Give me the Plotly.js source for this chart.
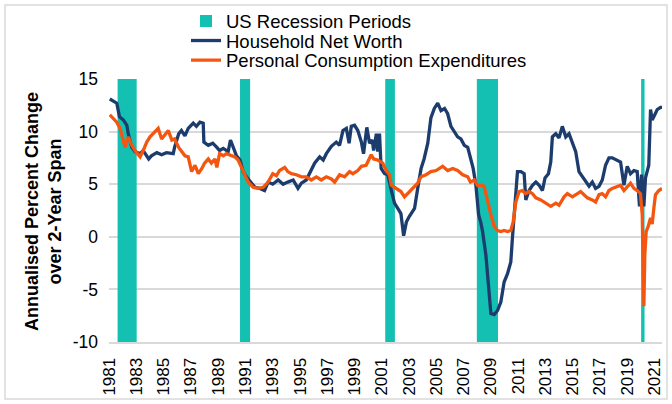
<!DOCTYPE html>
<html>
<head>
<meta charset="utf-8">
<script src="https://cdn.plot.ly/plotly-3.0.1.min.js"></script>
<style>
html,body{margin:0;padding:0;background:#ffffff;}
#chart{width:672px;height:404px;}
</style>
</head>
<body>
<div id="chart"></div>
<script>
// ---------- data ----------
const seriesNames = ["US Recession Periods", "Household Net Worth", "Personal Consumption Expenditures"];
const yAxisTitle = "Annualised Percent Change<br>over 2-Year Span";

const recessionStart = [1981.62, 1990.6, 2001.25, 2007.97, 2020.02];
const recessionEnd   = [1983.02, 1991.34, 2001.96, 2009.52, 2020.27];

const hnwYears = [1981.05,1981.4,1981.56,1981.76,1982.05,1982.3,1982.4,1982.66,1982.9,1983.27,1983.5,1983.9,1984.1,1984.5,1984.85,1985.2,1985.7,1985.8,1986.1,1986.3,1986.56,1986.8,1987.17,1987.4,1987.66,1987.9,1987.95,1988.27,1988.6,1988.9,1989.1,1989.37,1989.73,1989.9,1990.1,1990.34,1990.6,1990.83,1991.07,1991.37,1991.7,1992.05,1992.4,1992.66,1993.0,1993.4,1993.76,1994.1,1994.5,1994.85,1995.1,1995.46,1995.83,1996.07,1996.44,1996.7,1996.93,1997.3,1997.66,1997.9,1998.15,1998.4,1998.6,1998.76,1999.0,1999.24,1999.5,1999.66,1999.9,2000.1,2000.3,2000.4,2000.6,2000.7,2000.83,2000.95,2001.2,2001.44,2001.7,2001.93,2002.17,2002.4,2002.6,2002.8,2003.0,2003.4,2003.63,2003.88,2004.1,2004.37,2004.6,2004.85,2005.1,2005.34,2005.6,2005.83,2006.07,2006.3,2006.56,2006.8,2007.05,2007.3,2007.54,2007.7,2007.9,2008.1,2008.27,2008.39,2008.63,2008.76,2008.88,2009.0,2009.24,2009.49,2009.73,2009.97,2010.22,2010.46,2010.58,2010.78,2010.95,2011.2,2011.44,2011.56,2011.8,2012.05,2012.3,2012.54,2012.78,2012.97,2013.22,2013.39,2013.51,2013.76,2014.0,2014.24,2014.49,2014.73,2014.97,2015.22,2015.46,2015.7,2015.95,2016.2,2016.44,2016.68,2016.93,2017.17,2017.41,2017.66,2017.9,2018.15,2018.51,2018.76,2019.0,2019.24,2019.49,2019.73,2019.9,2020.05,2020.22,2020.34,2020.46,2020.58,2020.71,2020.83,2021.02,2021.2,2021.44,2021.55];
const hnwValues = [13.1,12.8,12.7,11.4,11.1,10.6,9.8,8.5,8.1,7.9,8.2,7.4,7.7,8.0,7.8,8.0,7.9,8.5,9.8,10.1,9.6,10.3,10.8,10.5,10.9,10.8,9.0,8.7,8.9,8.5,8.2,8.4,8.1,9.2,8.5,7.7,7.3,6.2,5.7,5.2,4.7,4.6,4.4,5.2,5.0,5.4,5.0,5.2,5.4,4.6,5.1,5.4,6.3,7.0,7.6,7.3,7.9,8.6,9.0,8.7,10.1,10.3,8.9,10.5,10.6,10.1,9.0,7.9,10.4,8.9,9.2,8.2,9.8,8.1,9.8,6.5,6.0,5.9,4.4,3.2,2.7,2.2,0.1,1.4,1.9,2.7,4.6,6.5,7.4,8.9,11.3,12.2,12.7,12.0,12.2,11.7,10.5,10.0,9.5,9.3,8.7,8.5,7.1,6.5,4.9,2.1,1.3,0.5,-1.7,-3.6,-5.4,-7.3,-7.4,-7.0,-6.2,-4.3,-3.5,-2.4,-0.1,3.7,6.2,6.2,6.0,3.5,4.4,4.9,5.2,4.9,4.4,5.6,6.0,7.1,9.5,9.8,9.4,10.5,9.5,9.8,8.9,8.1,6.2,5.7,5.2,4.8,5.2,4.6,4.8,5.4,6.8,7.5,7.5,7.3,7.1,4.9,6.7,6.0,6.3,6.2,2.9,5.9,2.9,5.6,6.3,6.8,12.1,11.1,11.6,12.1,12.3,12.3];

const pceYears = [1981.05,1981.3,1981.56,1981.8,1982.05,1982.17,1982.4,1982.66,1982.9,1983.27,1983.5,1983.76,1984.0,1984.37,1984.6,1984.85,1985.1,1985.34,1985.6,1985.8,1986.1,1986.3,1986.56,1986.8,1987.05,1987.3,1987.54,1987.8,1988.0,1988.27,1988.5,1988.76,1988.9,1989.1,1989.37,1989.6,1989.98,1990.22,1990.46,1990.7,1990.95,1991.2,1991.56,1991.93,1992.3,1992.66,1993.0,1993.27,1993.5,1993.88,1994.1,1994.37,1994.73,1995.1,1995.46,1995.83,1996.2,1996.56,1996.93,1997.3,1997.54,1997.9,1998.27,1998.63,1998.88,1999.24,1999.5,1999.85,2000.22,2000.4,2000.7,2001.07,2001.32,2001.56,2001.7,2002.05,2002.4,2002.66,2002.9,2003.27,2003.63,2003.88,2004.24,2004.6,2004.98,2005.46,2005.83,2006.2,2006.56,2006.93,2007.3,2007.5,2007.78,2008.02,2008.27,2008.5,2008.76,2009.0,2009.24,2009.49,2009.73,2009.97,2010.22,2010.46,2010.63,2010.83,2011.07,2011.3,2011.56,2011.8,2012.05,2012.3,2012.66,2013.02,2013.39,2013.76,2014.0,2014.37,2014.61,2014.98,2015.34,2015.58,2015.83,2016.07,2016.44,2016.68,2016.93,2017.17,2017.41,2017.66,2017.9,2018.27,2018.51,2018.76,2019.0,2019.24,2019.49,2019.73,2019.97,2020.1,2020.22,2020.29,2020.39,2020.54,2020.71,2020.83,2020.95,2021.07,2021.32,2021.55];
const pceValues = [11.6,11.2,10.9,10.3,8.9,8.5,9.5,8.7,8.2,7.6,8.2,9.0,9.5,10.0,10.3,9.3,9.7,10.1,9.2,9.3,8.5,8.1,7.7,7.6,6.2,6.8,6.0,6.5,7.0,7.4,7.0,7.4,6.6,7.9,7.7,7.9,7.7,7.6,7.3,6.6,5.8,5.2,4.7,4.6,4.7,5.2,6.0,5.8,6.3,6.6,6.2,6.0,5.9,5.7,5.7,5.4,5.7,5.4,5.7,5.5,5.2,5.9,5.7,6.2,6.0,6.3,6.7,6.8,7.8,7.4,7.3,7.0,6.3,5.9,4.9,4.6,4.3,3.8,4.1,4.6,5.1,5.7,5.9,6.2,6.3,6.7,6.3,6.5,6.3,5.9,5.7,5.2,5.4,4.9,4.9,4.8,3.3,2.1,1.0,0.6,0.5,0.6,0.5,0.6,1.4,3.3,4.3,4.4,4.1,4.3,4.1,3.7,3.5,3.2,2.9,3.2,3.0,3.8,4.1,3.8,4.1,4.3,4.0,3.7,3.5,3.3,4.0,4.1,3.8,4.4,4.6,4.8,4.9,4.4,4.8,5.1,4.6,4.4,4.1,2.1,-6.6,-1.7,0.5,1.0,1.8,1.2,2.7,4.0,4.4,4.6];

const tickYears = [1981,1983,1985,1987,1989,1991,1993,1995,1997,1999,2001,2003,2005,2007,2009,2011,2013,2015,2017,2019,2021];
const tickLabels = tickYears.map(String);
const yTickValues = [-10,-5,0,5,10,15];
const yTickLabels = ["-10","-5","0","5","10","15"];
const yRange = [-10, 15];
const xRange = [1980.99, 2021.55];

// ---------- derived for library ----------
const recMid = recessionStart.map((s,i)=>(s+recessionEnd[i])/2);
const recWidth = recessionStart.map((s,i)=>recessionEnd[i]-s);
const recBase = recessionStart.map(()=>yRange[0]);
const recHeight = recessionStart.map(()=>yRange[1]-yRange[0]);

const FONT = "Liberation Sans, Arial, sans-serif";
const W = 672, H = 404;
const M = {l:109, r:10, t:79, b:62};
const PW = W - M.l - M.r, PH = H - M.t - M.b;

const traces = [
  {type:'bar', name:seriesNames[0], legend:'legend', x:recMid, y:recHeight, base:recBase, width:recWidth,
   marker:{color:'#13C0B2', line:{width:0}}, hoverinfo:'skip'},
  {type:'scatter', mode:'lines', name:seriesNames[1], legend:'legend2', x:hnwYears, y:hnwValues,
   line:{color:'#1C3C6E', width:3.3}},
  {type:'scatter', mode:'lines', name:seriesNames[2], legend:'legend3', x:pceYears, y:pceValues,
   line:{color:'#F5560F', width:3.3}}
];

function legendAt(cy){
  return {xref:'container', yref:'container', x:186/W, y:1-cy/H, xanchor:'left', yanchor:'middle',
          font:{family:FONT, size:18.5, color:'#000000'}, bgcolor:'rgba(0,0,0,0)', borderwidth:0};
}

const layout = {
  width:W, height:H,
  margin:{l:M.l, r:M.r, t:M.t, b:M.b, autoexpand:false},
  paper_bgcolor:'#ffffff', plot_bgcolor:'#ffffff',
  font:{family:FONT, color:'#000000', size:17},
  showlegend:true,
  legend:legendAt(21.5),
  legend2:legendAt(41),
  legend3:legendAt(60.5),
  barmode:'overlay',
  xaxis:{range:xRange, tickmode:'array', tickvals:tickYears, ticktext:tickLabels, tickangle:-90,
         showgrid:false, zeroline:false, showline:true, linecolor:'#D9D9D9', linewidth:2,
         ticks:'', ticklabelstandoff:7, tickfont:{family:FONT, size:17, color:'#000'}},
  yaxis:{range:yRange, tickmode:'array', tickvals:yTickValues, ticktext:yTickLabels,
         showgrid:true, gridcolor:'#D9D9D9', gridwidth:2,
         zeroline:false, showline:false, ticks:'', ticklabelstandoff:10,
         tickfont:{family:FONT, size:17.5, color:'#000'}},
  annotations:[{text:yAxisTitle, xref:'paper', yref:'paper', x:(43-M.l)/PW, y:(M.t+PH-212)/PH,
                xanchor:'center', yanchor:'middle', textangle:-90, showarrow:false, align:'center',
                font:{family:FONT, size:18, weight:700, color:'#000'}}],
  shapes:[{type:'rect', xref:'paper', yref:'paper', x0:(5-M.l)/PW, x1:(667-M.l)/PW,
           y0:-(399-(M.t+PH))/PH, y1:1+(M.t-5)/PH, line:{color:'#D9D9D9', width:1.5}, layer:'below'}]
};

Plotly.newPlot('chart', traces, layout, {staticPlot:true, displayModeBar:false});
</script>
</body>
</html>
